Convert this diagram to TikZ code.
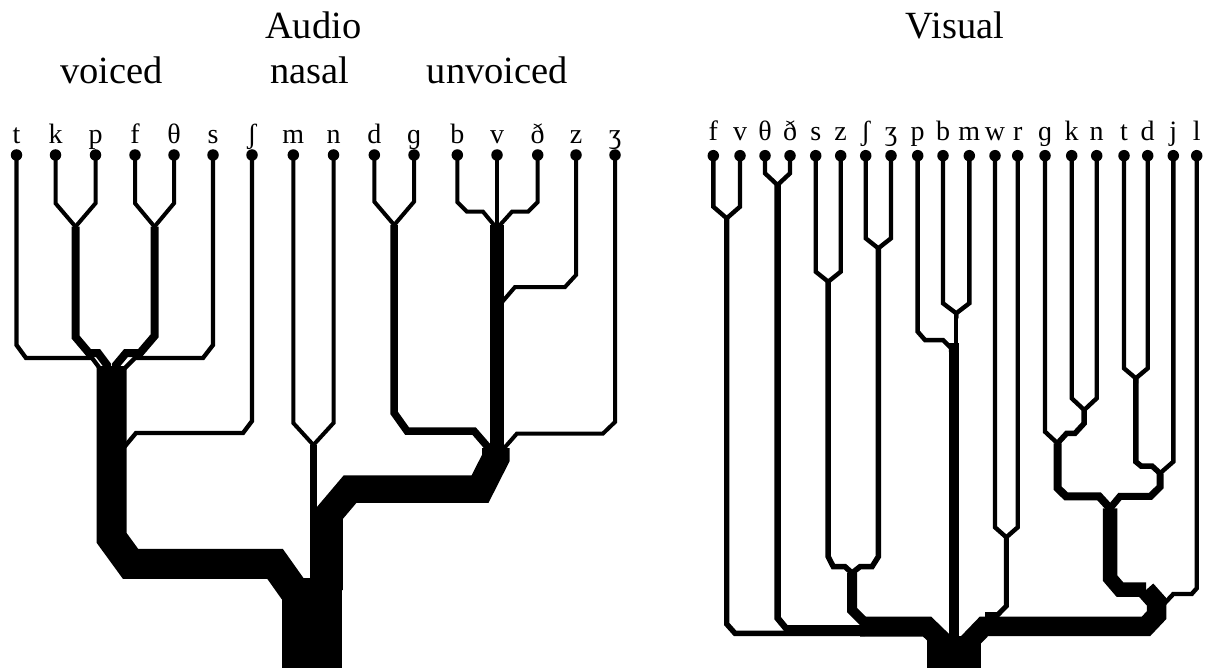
\documentclass[tikz,border=0pt]{standalone}
\usepackage{fontspec}
\setmainfont{Liberation Serif}
\usepackage{tikz}
\tikzset{
  leaf/.style={circle, fill=black, inner sep=0pt, minimum size=11.5pt},
  lab/.style={anchor=base, inner sep=0pt, font=\fontsize{28}{30}\selectfont},
  head/.style={anchor=base, inner sep=0pt, font=\fontsize{38.5}{40}\selectfont},
  limb/.style={line width=#1, miter limit=20}
}

\begin{document}
\begin{tikzpicture}[x=1pt, y=-1pt]
  \useasboundingbox (0,0) rectangle (1206,668);

  % titles
  \node[head] (ttl-audio) at (313.3,39) {Audio};
  \node[head] (ttl-voiced) at (111.7,83.3) {voiced};
  \node[head] (ttl-nasal) at (310,83.3) {nasal};
  \node[head] (ttl-unvoiced) at (497.5,83.3) {unvoiced};
  \node[head] (ttl-visual) at (955,38.3) {Visual};

  % audio leaves
  \node[lab] (la-t) at (16.5,143.5) {t};
  \node[lab] (la-k) at (55.5,143.5) {k};
  \node[lab] (la-p) at (95.5,143.5) {p};
  \node[lab] (la-f) at (135,143.5) {f};
  \node[lab] (la-th) at (174,143.5) {θ};
  \node[lab] (la-s) at (213,143.5) {s};
  \node[lab] (la-sh) at (252,143.5) {ʃ};
  \node[lab] (la-m) at (293.3,143.5) {m};
  \node[lab] (la-n) at (333.5,143.5) {n};
  \node[lab] (la-d) at (374.3,143.5) {d};
  \node[lab] (la-g) at (414,143.5) {ɡ};
  \node[lab] (la-b) at (457.3,143.5) {b};
  \node[lab] (la-v) at (497,143.5) {v};
  \node[lab] (la-dh) at (537.7,143.5) {ð};
  \node[lab] (la-z) at (576,143.5) {z};
  \node[lab] (la-zh) at (615,143.5) {ʒ};

  \node[leaf] (a-t) at (16.5,155) {};
  \node[leaf] (a-k) at (55.5,155) {};
  \node[leaf] (a-p) at (95.5,155) {};
  \node[leaf] (a-f) at (135,155) {};
  \node[leaf] (a-th) at (174,155) {};
  \node[leaf] (a-s) at (213,155) {};
  \node[leaf] (a-sh) at (252,155) {};
  \node[leaf] (a-m) at (293.3,155) {};
  \node[leaf] (a-n) at (333.5,155) {};
  \node[leaf] (a-d) at (374.3,155) {};
  \node[leaf] (a-g) at (414,155) {};
  \node[leaf] (a-b) at (457.3,155) {};
  \node[leaf] (a-v) at (497,155) {};
  \node[leaf] (a-dh) at (537.7,155) {};
  \node[leaf] (a-z) at (576,155) {};
  \node[leaf] (a-zh) at (615,155) {};

  % audio joins
  \coordinate (a-kp) at (75.5,226.7);
  \coordinate (a-fth) at (154.5,226.7);
  \coordinate (a-voiced) at (111.7,366);
  \coordinate (a-mn) at (313.4,445);
  \coordinate (a-dg) at (394.2,225);
  \coordinate (a-bvdh) at (497,225);
  \coordinate (a-unvoiced) at (495.8,448);
  \coordinate (a-root) at (311.7,578);

  \draw[limb=4] (a-k.center) -- (55.5,203.3) -- (a-kp) -- ++(0,5);
  \draw[limb=4] (a-p.center) -- (95.5,203.3) -- (a-kp) -- ++(0,5);
  \draw[limb=4] (a-f.center) -- (135,203.3) -- (a-fth) -- ++(0,5);
  \draw[limb=4] (a-th.center) -- (174,203.3) -- (a-fth) -- ++(0,5);
  \draw[limb=8] (a-kp) -- (75.5,337) -- (89,353) -- (98,353) -- (107,365) -- (107,372);
  \draw[limb=8] (a-fth) -- (154.5,336) -- (140,353) -- (126,353) -- (116,365) -- (116,372);
  \draw[limb=4.3] (a-t.center) -- (16.5,345) -- (26,358) -- (92,358) -- (101,370);
  \draw[limb=4.3] (a-s.center) -- (213,345) -- (203,358) -- (135,358) -- (123,370);
  \draw[limb=4.3] (a-sh.center) -- (252,421) -- (243,433) -- (136,433) -- (126,445) -- (122,450);
  \draw[limb=30] (a-voiced) -- (111.7,538) -- (130.5,563.8) -- (275,563.8) -- (295,592);

  \draw[limb=4] (a-m.center) -- (293.3,423) -- (a-mn) -- ++(0,5);
  \draw[limb=4] (a-n.center) -- (333.5,423) -- (a-mn) -- ++(0,5);
  \draw[limb=6.7] (a-mn) -- (313.4,590);

  \draw[limb=4] (a-d.center) -- (374.3,201.7) -- (a-dg) -- ++(0,5);
  \draw[limb=4] (a-g.center) -- (414,201.7) -- (a-dg) -- ++(0,5);
  \draw[limb=7.5] (a-dg) -- (394.2,413) -- (407,431) -- (474,431) -- (487,446) -- (487,452);
  \draw[limb=4] (a-b.center) -- (457.3,202) -- (467,211.7) -- (483,211.7) -- (494,225) -- (494,232);
  \draw[limb=4] (a-dh.center) -- (537.7,202) -- (528,211.7) -- (512,211.7) -- (500,225) -- (500,232);
  \draw[limb=3.5] (a-v.center) -- (497,232);
  \draw[limb=14] (a-bvdh) -- (497,452);
  \draw[limb=4] (a-z.center) -- (576,275) -- (565,287) -- (515,287) -- (503,301) -- (500,305);
  \draw[limb=4] (a-zh.center) -- (615,422) -- (603,433.5) -- (517,433.5) -- (506,446) -- (502,450);
  \draw[limb=27.5] (a-unvoiced) -- (495.8,458) -- (480,489.2) -- (350,489.2) -- (329,514) -- (329,590);

  \draw[limb=60] (a-root) -- (311.7,672);

  % visual leaves
  \node[lab] (lv-f) at (713.3,141) {f};
  \node[lab] (lv-v) at (740,141) {v};
  \node[lab] (lv-th) at (765,141) {θ};
  \node[lab] (lv-dh) at (790,141) {ð};
  \node[lab] (lv-s) at (815.7,141) {s};
  \node[lab] (lv-z) at (840.7,141) {z};
  \node[lab] (lv-sh) at (865.7,141) {ʃ};
  \node[lab] (lv-zh) at (891,141) {ʒ};
  \node[lab] (lv-p) at (917.7,141) {p};
  \node[lab] (lv-b) at (943,141) {b};
  \node[lab] (lv-m) at (969.3,141) {m};
  \node[lab] (lv-w) at (995,141) {w};
  \node[lab] (lv-r) at (1017.7,141) {r};
  \node[lab] (lv-g) at (1045,141) {ɡ};
  \node[lab] (lv-k) at (1071.7,141) {k};
  \node[lab] (lv-n) at (1096.7,141) {n};
  \node[lab] (lv-t) at (1124,141) {t};
  \node[lab] (lv-d) at (1147.7,141) {d};
  \node[lab] (lv-j) at (1173.3,141) {j};
  \node[lab] (lv-l) at (1196.7,141) {l};

  \node[leaf] (v-f) at (713.3,155.7) {};
  \node[leaf] (v-v) at (740,155.7) {};
  \node[leaf] (v-th) at (765,155.7) {};
  \node[leaf] (v-dh) at (790,155.7) {};
  \node[leaf] (v-s) at (815.7,155.7) {};
  \node[leaf] (v-z) at (840.7,155.7) {};
  \node[leaf] (v-sh) at (865.7,155.7) {};
  \node[leaf] (v-zh) at (891,155.7) {};
  \node[leaf] (v-p) at (917.7,155.7) {};
  \node[leaf] (v-b) at (943,155.7) {};
  \node[leaf] (v-m) at (969.3,155.7) {};
  \node[leaf] (v-w) at (995,155.7) {};
  \node[leaf] (v-r) at (1017.7,155.7) {};
  \node[leaf] (v-g) at (1045,155.7) {};
  \node[leaf] (v-k) at (1071.7,155.7) {};
  \node[leaf] (v-n) at (1096.7,155.7) {};
  \node[leaf] (v-t) at (1124,155.7) {};
  \node[leaf] (v-d) at (1147.7,155.7) {};
  \node[leaf] (v-j) at (1173.3,155.7) {};
  \node[leaf] (v-l) at (1196.7,155.7) {};

  % visual joins
  \coordinate (v-fv) at (726.7,218.3);
  \coordinate (v-thdh) at (777.5,185);
  \coordinate (v-sz) at (828.2,281.7);
  \coordinate (v-shzh) at (878.3,248.3);
  \coordinate (v-sibil) at (852,573);
  \coordinate (v-bm) at (956.2,313.3);
  \coordinate (v-pbm) at (954.2,343);
  \coordinate (v-wr) at (1006.3,537.3);
  \coordinate (v-kn) at (1084.2,410);
  \coordinate (v-gkn) at (1057.5,443.3);
  \coordinate (v-td) at (1135.8,378.3);
  \coordinate (v-tdj) at (1160,473.3);
  \coordinate (v-velar) at (1110,508.3);
  \coordinate (v-root) at (953.7,636);

  \draw[limb=4.4] (v-f.center) -- (713.3,206.7) -- (v-fv) -- ++(0,5);
  \draw[limb=4.4] (v-v.center) -- (740,206.7) -- (v-fv) -- ++(0,5);
  \draw[limb=4.4] (v-th.center) -- (765,173.3) -- (v-thdh) -- ++(0,5);
  \draw[limb=4.4] (v-dh.center) -- (790,173.3) -- (v-thdh) -- ++(0,5);
  \draw[limb=5.4] (v-fv) -- (726.7,624) -- (735,633.3) -- (865,633.3);
  \draw[limb=6.5] (v-thdh) -- (777.5,618) -- (786,628.3) -- (865,628.3);

  \draw[limb=4.4] (v-s.center) -- (815.7,271.7) -- (v-sz) -- ++(0,5);
  \draw[limb=4.4] (v-z.center) -- (840.7,271.7) -- (v-sz) -- ++(0,5);
  \draw[limb=4.4] (v-sh.center) -- (865.7,238.3) -- (v-shzh) -- ++(0,5);
  \draw[limb=4.4] (v-zh.center) -- (891,238.3) -- (v-shzh) -- ++(0,5);
  \draw[limb=5.5] (v-sz) -- (828.2,556.7) -- (833.3,566.7) -- (845,566.7) -- (v-sibil) -- ++(0,5);
  \draw[limb=5.5] (v-shzh) -- (878.3,556.7) -- (872,566.7) -- (860,566.7) -- (v-sibil) -- ++(0,5);
  \draw[limb=10] (v-sibil) -- (852,610) -- (864,622);
  \draw[limb=20] (860,626.5) -- (927,626.5) -- (943,642) -- (943,655);

  \draw[limb=4.4] (v-b.center) -- (943,303.3) -- (v-bm) -- ++(0,5);
  \draw[limb=4.4] (v-m.center) -- (969.3,303.3) -- (v-bm) -- ++(0,5);
  \draw[limb=4.5] (v-bm) -- (956.2,346);
  \draw[limb=4.5] (v-p.center) -- (917.7,331.7) -- (925,340) -- (943,340) -- (951,348) -- (951,352);
  \draw[limb=10] (v-pbm) -- (954.2,650);

  \draw[limb=4.4] (v-w.center) -- (995,527.3) -- (v-wr) -- ++(0,5);
  \draw[limb=4.4] (v-r.center) -- (1017.7,527.3) -- (v-wr) -- ++(0,5);
  \draw[limb=5] (v-wr) -- (1006.3,606) -- (998,614.5) -- (985,614.5);

  \draw[limb=4.4] (v-k.center) -- (1071.7,398.3) -- (v-kn) -- ++(0,5);
  \draw[limb=4.4] (v-n.center) -- (1096.7,398.3) -- (v-kn) -- ++(0,5);
  \draw[limb=5.5] (v-kn) -- (1084.2,423.3) -- (1075,433.3) -- (1066.7,433.3) -- (v-gkn) -- ++(0,5);
  \draw[limb=4.4] (v-g.center) -- (1045,431.7) -- (v-gkn) -- ++(0,5);
  \draw[limb=8] (v-gkn) -- (1057.5,488) -- (1066,496.3) -- (1099,496.3) -- (v-velar) -- ++(0,6);

  \draw[limb=4.4] (v-t.center) -- (1124,368.3) -- (v-td) -- ++(0,5);
  \draw[limb=4.4] (v-d.center) -- (1147.7,368.3) -- (v-td) -- ++(0,5);
  \draw[limb=5.5] (v-td) -- (1135.8,461.7) -- (1141,466) -- (1152,466) -- (v-tdj) -- ++(0,5);
  \draw[limb=4.4] (v-j.center) -- (1173.3,461.7) -- (v-tdj) -- ++(0,5);
  \draw[limb=7] (v-tdj) -- (1160,487) -- (1150.5,496.3) -- (1120,496.3) -- (v-velar) -- ++(0,6);

  \draw[limb=14.5] (v-velar) -- (1110,578) -- (1120,589.7) -- (1146,589.7);
  \draw[limb=4.4] (v-l.center) -- (1196.7,588.3) -- (1191.7,594) -- (1173.3,594) -- (1163,605);
  \draw[limb=19.5] (1146,590) -- (1156.7,602) -- (1156.7,615) -- (1146,626.3) -- (984,626.3) -- (966,645) -- (966,655);

  \draw[limb=54] (v-root) -- (953.7,672);
\end{tikzpicture}
\end{document}
